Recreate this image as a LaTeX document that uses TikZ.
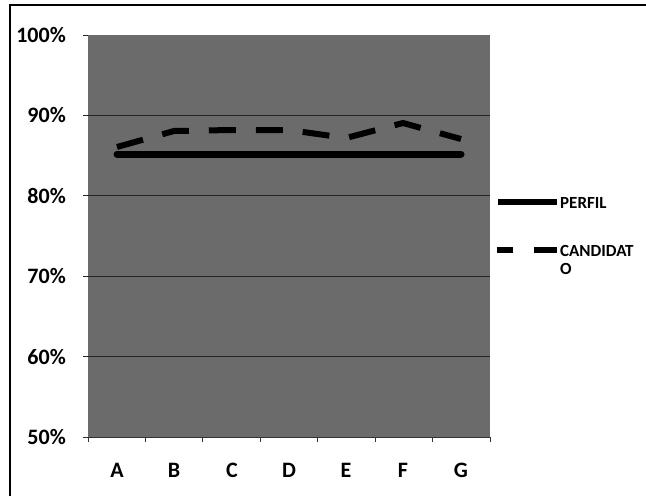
\documentclass[tikz,border=0pt]{standalone}
\usepackage{fontspec}
\setmainfont{Carlito}
\begin{document}
\begin{tikzpicture}[x=1pt,y=-1pt,
  axislabel/.style={font=\fontsize{22}{24}\selectfont\bfseries, inner sep=0pt},
  leglabel/.style={font=\fontsize{17}{19}\selectfont\bfseries, inner sep=0pt, anchor=west, align=left},
  perfilline/.style={line width=7pt, line cap=round, black},
  candline/.style={line width=6pt, black, dash pattern=on 27pt off 20pt, line join=round},
  gridline/.style={black!85, line width=0.9pt}]
\useasboundingbox (0,0) rectangle (646,496);
\fill[white] (0,0) rectangle (646,496);
% frame
\draw[line width=1.6pt] (10,496) -- (10,5) -- (646,5);
% plot area
\fill[black!58] (88,35) rectangle (490,437);
\foreach \yy in {115.4,195.8,276.2,356.6} \draw[gridline] (83,\yy) -- (490,\yy);
\draw[gridline] (83,35) -- (88,35);
\draw[black!80, line width=1pt] (83,437) -- (490,437);
\foreach \xx in {88,145.4,202.9,260.3,317.7,375.1,432.6,490} \draw[black!80, line width=1pt] (\xx,437) -- (\xx,442);
% y labels
\node[axislabel, anchor=east] (y100) at (66,35) {100\%};
\node[axislabel, anchor=east] (y90) at (66,115.4) {90\%};
\node[axislabel, anchor=east] (y80) at (66,195.8) {80\%};
\node[axislabel, anchor=east] (y70) at (66,276.2) {70\%};
\node[axislabel, anchor=east] (y60) at (66,356.6) {60\%};
\node[axislabel, anchor=east] (y50) at (66,437) {50\%};
% x labels
\node[axislabel] (xA) at (117,470) {A};
\node[axislabel] (xB) at (174,470) {B};
\node[axislabel] (xC) at (232,470) {C};
\node[axislabel] (xD) at (289,470) {D};
\node[axislabel] (xE) at (346,470) {E};
\node[axislabel] (xF) at (403,470) {F};
\node[axislabel] (xG) at (461,470) {G};
% data points
\coordinate (pA) at (117,154); \coordinate (pG) at (461,154);
\coordinate (cA) at (117,147); \coordinate (cB) at (174,131);
\coordinate (cC) at (232,130); \coordinate (cD) at (289,130);
\coordinate (cE) at (346,138); \coordinate (cF) at (403,123);
\coordinate (cG) at (461,139);
\draw[perfilline] (pA) -- (pG);
\draw[candline] (cA) -- (cB) -- (cC) -- (cD) -- (cE) -- (cF) -- (cG);
% legend
\coordinate (l1a) at (498,202); \coordinate (l1b) at (557,202);
\draw[line width=6pt, black] (l1a) -- (l1b);
\node[leglabel] (lperfil) at (560,203) {PERFIL};
\coordinate (l2a) at (497,250); \coordinate (l2b) at (557,250);
\draw[line width=6pt, black, dash pattern=on 16pt off 21pt on 23pt] (l2a) -- (l2b);
\node[leglabel] (lcand) at (560,251) {CANDIDAT};
\node[leglabel] (lcand2) at (560,269) {O};
\end{tikzpicture}
\end{document}
